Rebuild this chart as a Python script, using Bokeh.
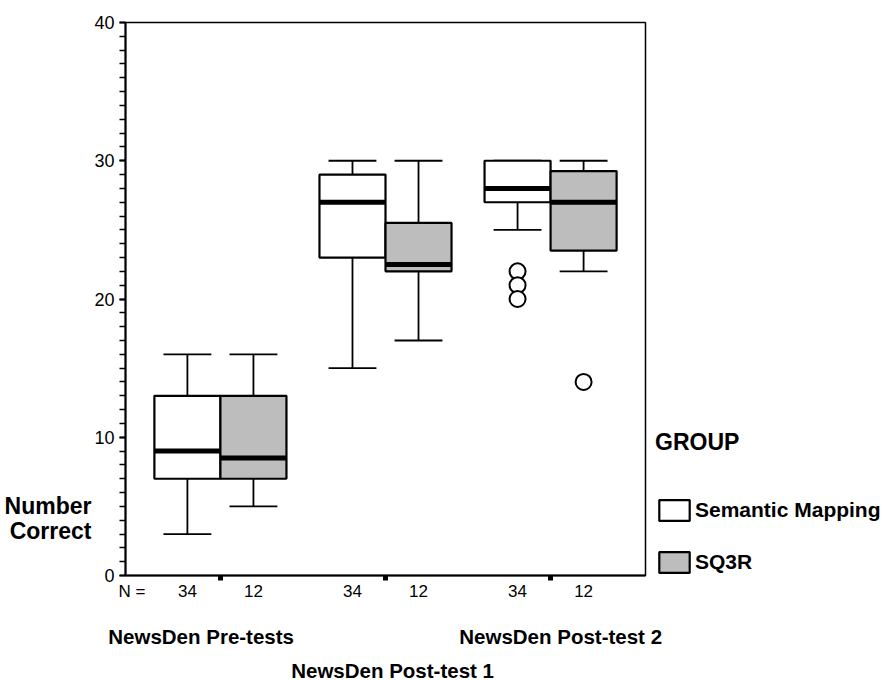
from bokeh.plotting import figure
from bokeh.models import (Range1d, FixedTicker, LinearAxis,
                          ColumnDataSource, Legend, LegendItem)
from bokeh.embed import file_html
from bokeh.resources import INLINE

# ---- data ----
groups = ["NewsDen Pre-tests", "NewsDen Post-test 1", "NewsDen Post-test 2"]
series = ["Semantic Mapping", "SQ3R"]
n_sm = [34, 34, 34]
n_sq = [12, 12, 12]

sm_low = [3, 15, 25]
sm_q1 = [7, 23, 27]
sm_med = [9, 27, 28]
sm_q3 = [13, 29, 30]
sm_high = [16, 30, 30]

sq_low = [5, 17, 22]
sq_q1 = [7, 22, 23.5]
sq_med = [8.5, 22.5, 27]
sq_q3 = [13, 25.5, 29.25]
sq_high = [16, 30, 30]

sm_out_group = [3, 3, 3]
sm_out_val = [22, 21, 20]
sq_out_group = [3]
sq_out_val = [14]

y_major = [0, 10, 20, 30, 40]
y_minor = list(range(0, 41))
y_title = ["Number", "Correct"]

# ---- styling ----
FONT = "Liberation Sans"
GRAY = "#bdbdbd"
BW = 0.4      # box width (x units)
CAP = 0.145   # half-width of whisker cap

p = figure(frame_width=520, frame_height=553, output_backend="svg",
           toolbar_location=None, x_range=Range1d(0.425, 3.575),
           y_range=Range1d(0, 40), min_border_left=125, min_border_top=22,
           min_border_bottom=0, min_border_right=0)
p.background_fill_color = "white"
p.border_fill_color = "white"
p.outline_line_color = "black"
p.outline_line_width = 1.5
p.xgrid.visible = False
p.ygrid.visible = False


def box_source(offset, low, q1, med, q3, high):
    xc = [i + 1 + offset for i in range(len(groups))]
    return ColumnDataSource(dict(
        xc=xc,
        left=[x - BW / 2 for x in xc], right=[x + BW / 2 for x in xc],
        cl=[x - CAP for x in xc], cr=[x + CAP for x in xc],
        low=low, q1=q1, med=med, q3=q3, high=high))


renderers = []
for offset, fill, data in [(-BW / 2, "white", (sm_low, sm_q1, sm_med, sm_q3, sm_high)),
                           (BW / 2, GRAY, (sq_low, sq_q1, sq_med, sq_q3, sq_high))]:
    src = box_source(offset, *data)
    p.segment(x0="xc", y0="q3", x1="xc", y1="high", source=src, line_color="black", line_width=1.8)
    p.segment(x0="xc", y0="q1", x1="xc", y1="low", source=src, line_color="black", line_width=1.8)
    p.segment(x0="cl", y0="high", x1="cr", y1="high", source=src, line_color="black", line_width=1.8)
    p.segment(x0="cl", y0="low", x1="cr", y1="low", source=src, line_color="black", line_width=1.8)
    r = p.quad(left="left", right="right", bottom="q1", top="q3", source=src,
               fill_color=fill, line_color="black", line_width=2.2)
    renderers.append(r)
    p.segment(x0="left", y0="med", x1="right", y1="med", source=src,
              line_color="black", line_width=5)

# outliers
p.scatter([g - BW / 2 for g in sm_out_group], sm_out_val, marker="circle", size=16,
          fill_color="white", line_color="black", line_width=2)
p.scatter([g + BW / 2 for g in sq_out_group], sq_out_val, marker="circle", size=16,
          fill_color="white", line_color="black", line_width=2)

# ---- y axis ----
ya = p.yaxis[0]
ya.ticker = FixedTicker(ticks=y_major, minor_ticks=y_minor)
ya.axis_line_width = 2
ya.major_tick_in = 0
ya.major_tick_out = 6
ya.major_tick_line_width = 2
ya.minor_tick_in = 0
ya.minor_tick_out = 6
ya.minor_tick_line_width = 1.5
ya.major_label_text_font = FONT
ya.major_label_text_font_size = "18px"
ya.major_label_text_color = "black"
ya.major_label_standoff = 5

# y title as an outer left axis (horizontal, bottom-left like the original)
title_pos = [5.06, 3.25]
ta = LinearAxis(ticker=FixedTicker(ticks=title_pos),
                major_label_overrides={v: t for v, t in zip(title_pos, y_title)})
ta.axis_line_color = None
ta.major_tick_line_color = None
ta.minor_tick_line_color = None
ta.major_tick_out = 0
ta.major_tick_in = 0
ta.major_label_standoff = 0
ta.major_label_text_font = FONT
ta.major_label_text_font_size = "23px"
ta.major_label_text_font_style = "bold"
ta.major_label_text_color = "black"
p.add_layout(ta, "left")

# ---- x axis: N counts under boxes, group marks as minor ticks ----
n_pos = [0.464]
n_text = {0.464: "N ="}
for i in range(len(groups)):
    a = round(i + 1 - BW / 2, 2)
    b = round(i + 1 + BW / 2, 2)
    n_pos += [a, b]
    n_text[a] = str(n_sm[i])
    n_text[b] = str(n_sq[i])
xa = p.xaxis[0]
xa.ticker = FixedTicker(ticks=n_pos, minor_ticks=[1, 2, 3])
xa.major_label_overrides = n_text
xa.axis_line_width = 2
xa.major_tick_in = 0
xa.major_tick_out = 0
xa.minor_tick_in = 0
xa.minor_tick_out = 5
xa.minor_tick_line_width = 5
xa.major_label_text_font = FONT
xa.major_label_text_font_size = "17px"
xa.major_label_text_color = "black"
xa.major_label_standoff = 1


def group_axis(positions, labels, standoff):
    ax = LinearAxis(ticker=FixedTicker(ticks=positions),
                    major_label_overrides={v: t for v, t in zip(positions, labels)})
    ax.axis_line_color = None
    ax.major_tick_line_color = None
    ax.minor_tick_line_color = None
    ax.major_tick_out = 0
    ax.major_tick_in = 0
    ax.major_label_standoff = standoff
    ax.major_label_text_font = FONT
    ax.major_label_text_font_size = "20.5px"
    ax.major_label_text_font_style = "bold"
    ax.major_label_text_color = "black"
    p.add_layout(ax, "below")


# staggered category labels (two rows)
group_x = [0.883, 2.043, 3.061]
group_axis([group_x[0], group_x[2]], [groups[0], groups[2]], 21)
group_axis([group_x[1]], [groups[1]], 8)

# ---- legend ----
legend = Legend(items=[LegendItem(label=s, renderers=[r]) for s, r in zip(series, renderers)],
                title="GROUP", location=(10, 0))
legend.title_text_font = FONT
legend.title_text_font_size = "23px"
legend.title_text_font_style = "bold"
legend.title_text_color = "black"
legend.title_standoff = 41
legend.label_text_font = FONT
legend.label_text_font_size = "21px"
legend.label_text_font_style = "bold"
legend.label_text_color = "black"
legend.label_standoff = 2
legend.glyph_width = 38
legend.glyph_height = 26
legend.spacing = 26
legend.padding = 0
legend.margin = 0
legend.border_line_color = None
legend.background_fill_color = None
p.add_layout(legend, "right")

open("out.html", "w").write(file_html(p, INLINE))
